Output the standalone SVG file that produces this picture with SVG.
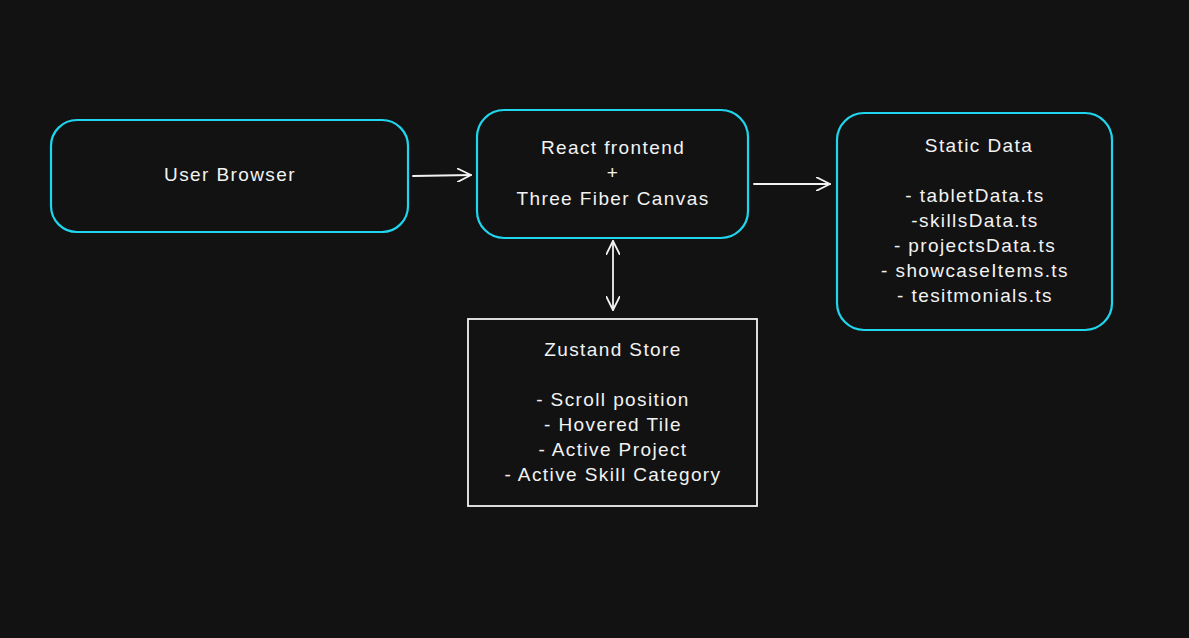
<svg xmlns="http://www.w3.org/2000/svg" width="1189" height="638" viewBox="0 0 1189 638">
<defs>
<style>
.bg{fill:#121212}
.node{fill:#121212;stroke:#1fd6ee;stroke-width:2.2}
.store{fill:#121212;stroke:#f2f2f2;stroke-width:1.8}
.t{font-family:"Liberation Sans","DejaVu Sans",sans-serif;font-size:19px;fill:#f2f2f2;text-anchor:middle;letter-spacing:1.4px}
.edge{stroke:#f2f2f2;stroke-width:1.8;fill:none;stroke-linecap:round;stroke-linejoin:round}
</style>
<marker id="ah" markerWidth="16" markerHeight="14" refX="14" refY="7" orient="auto-start-reverse" markerUnits="userSpaceOnUse">
<path d="M0,0 L14,7 L0,14" fill="none" stroke="#f2f2f2" stroke-width="1.8" stroke-linecap="round" stroke-linejoin="round"/>
</marker>
</defs>
<rect class="bg" x="0" y="0" width="1189" height="638"/>
<g id="edges">
<path class="edge" d="M413,176 L471,175" marker-end="url(#ah)"/>
<path class="edge" d="M754,184 L830,184" marker-end="url(#ah)"/>
<path class="edge" d="M613,241 L613,310" marker-start="url(#ah)" marker-end="url(#ah)"/>
</g>
<g id="user-browser">
<rect class="node" x="51" y="120" width="357" height="112" rx="26"/>
<text class="t" x="230" y="181">User Browser</text>
</g>
<g id="react-frontend">
<rect class="node" x="477" y="110" width="271" height="128" rx="27"/>
<text class="t" x="613" y="154">React frontend</text>
<text class="t" x="613" y="179">+</text>
<text class="t" x="613" y="205">Three Fiber Canvas</text>
</g>
<g id="static-data">
<rect class="node" x="837" y="113" width="275" height="217" rx="27"/>
<text class="t" x="979" y="152">Static Data</text>
<text class="t" x="975" y="202">- tabletData.ts</text>
<text class="t" x="975" y="227">-skillsData.ts</text>
<text class="t" x="975" y="252">- projectsData.ts</text>
<text class="t" x="975" y="277">- showcaseItems.ts</text>
<text class="t" x="975" y="302">- tesitmonials.ts</text>
</g>
<g id="zustand-store">
<rect class="store" x="468" y="319" width="289" height="187"/>
<text class="t" x="613" y="356">Zustand Store</text>
<text class="t" x="613" y="406">- Scroll position</text>
<text class="t" x="613" y="431">- Hovered Tile</text>
<text class="t" x="613" y="456">- Active Project</text>
<text class="t" x="613" y="481">- Active Skill Category</text>
</g>
</svg>
